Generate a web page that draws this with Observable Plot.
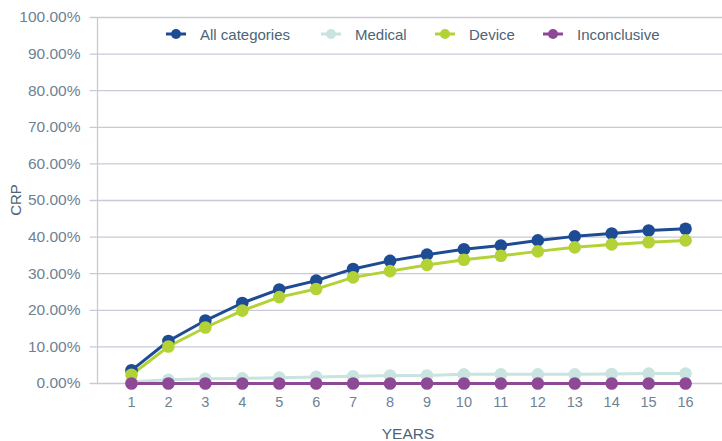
<!DOCTYPE html>
<html>
<head>
<meta charset="utf-8">
<script src="https://cdn.jsdelivr.net/npm/d3@7"></script>
<script src="https://cdn.jsdelivr.net/npm/@observablehq/plot@0.6"></script>
<style>
  html, body { margin: 0; padding: 0; background: #fff; }
  #wrap { position: relative; width: 722px; height: 441px; font-family: "Liberation Sans", Arial, sans-serif; }
  #legend { position: absolute; top: 24px; left: 166px; display: flex; font-size: 15px; color: #4d6476; }
  .item { display: flex; align-items: center; margin-right: 0; }
  .item svg { margin-right: 14px; }
</style>
</head>
<body>
<div id="wrap"><div id="chart"></div><div id="legend"></div></div>
<script>
const years = [1,2,3,4,5,6,7,8,9,10,11,12,13,14,15,16];
const seriesNames = ["All categories", "Medical", "Device", "Inconclusive"];
const seriesColors = ["#1d4b94", "#c8e3e0", "#b2d235", "#8d4896"];
const allCategories = [3.6, 11.6, 17.2, 22.0, 25.7, 28.1, 31.3, 33.5, 35.2, 36.7, 37.7, 39.1, 40.2, 41.0, 41.8, 42.3];
const medical = [0.5, 1.0, 1.3, 1.4, 1.6, 1.8, 2.0, 2.2, 2.2, 2.5, 2.5, 2.5, 2.5, 2.6, 2.7, 2.7];
const device = [2.4, 10.1, 15.3, 19.9, 23.6, 25.8, 29.0, 30.7, 32.4, 33.8, 34.9, 36.1, 37.2, 38.0, 38.6, 39.1];
const inconclusive = [0, 0, 0, 0, 0, 0, 0, 0, 0, 0, 0, 0, 0, 0, 0, 0];
const yTicks = [0,10,20,30,40,50,60,70,80,90,100];
const legendX = [0, 155, 269, 377];

const seriesValues = [allCategories, medical, device, inconclusive];
const data = [];
seriesNames.forEach((name, i) => years.forEach((yr, j) => data.push({series: name, year: yr, value: seriesValues[i][j]})));

const tickColor = "#6e8294";
const chart = Plot.plot({
  width: 722,
  height: 441,
  marginLeft: 97,
  marginRight: 0,
  marginTop: 17,
  marginBottom: 58,
  style: {fontFamily: "Liberation Sans, Arial, sans-serif", fontSize: "14px", color: tickColor, background: "#fff"},
  x: {domain: [0.08, 17], axis: null},
  y: {domain: [0, 100], axis: null},
  color: {domain: seriesNames, range: seriesColors},
  marks: [
    Plot.ruleY(yTicks, {x1: -0.12, x2: 17, stroke: "#c9c9d8", strokeWidth: 1.3}),
    Plot.ruleX([0.08], {y1: 0, y2: 100, stroke: "#c9c9d8", strokeWidth: 1.3}),
    Plot.text(yTicks, {x: 0.08, y: d => d, text: d => d.toFixed(2) + "%", textAnchor: "end", dx: -17, fill: tickColor, fontSize: 15.5}),
    Plot.text(years, {x: d => d, y: 0, text: d => String(d), dy: 19, fill: tickColor, fontSize: 14.5}),
    Plot.line(data, {x: "year", y: "value", z: "series", stroke: "series", strokeWidth: 3}),
    Plot.dot(data, {x: "year", y: "value", fill: "series", r: 6.3}),
  ]
});
document.getElementById("chart").appendChild(chart);

// axis titles
const svg = d3.select(chart);
svg.append("text").attr("x", 408).attr("y", 439).attr("text-anchor", "middle")
  .attr("fill", "#4d6476").attr("font-size", 15.5).text("YEARS");
svg.append("text").attr("transform", "translate(21,200) rotate(-90)").attr("text-anchor", "middle")
  .attr("fill", "#4d6476").attr("font-size", 15).text("CRP");

// legend
const legend = document.getElementById("legend");
seriesNames.forEach((name, i) => {
  const item = document.createElement("div");
  item.className = "item";
  item.style.position = "absolute";
  item.style.left = legendX[i] + "px";
  item.style.whiteSpace = "nowrap";
  item.innerHTML = `<svg width="20" height="20"><line x1="0" x2="20" y1="10" y2="10" stroke="${seriesColors[i]}" stroke-width="3"/><circle cx="10" cy="10" r="5" fill="${seriesColors[i]}"/></svg><span>${name}</span>`;
  legend.appendChild(item);
});
</script>
</body>
</html>
